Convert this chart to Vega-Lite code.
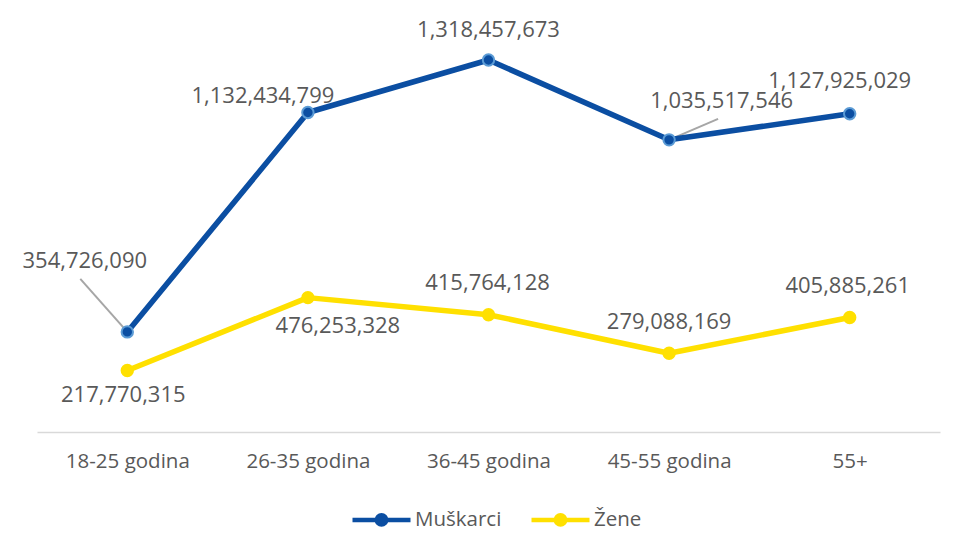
{
  "$schema": "https://vega.github.io/schema/vega-lite/v6.json",
  "autosize": "none",
  "width": 903,
  "height": 395,
  "padding": {"left": 37, "top": 37, "right": 29, "bottom": 122},
  "background": "white",
  "config": {
    "view": {"stroke": null},
    "font": "Open Sans",
    "text": {"font": "Open Sans", "fontSize": 22, "fill": "#595959"}
  },
  "data": {
    "values": [
      {"group": "18-25 godina", "gender": "Muškarci", "value": 354726090},
      {"group": "26-35 godina", "gender": "Muškarci", "value": 1132434799},
      {"group": "36-45 godina", "gender": "Muškarci", "value": 1318457673},
      {"group": "45-55 godina", "gender": "Muškarci", "value": 1035517546},
      {"group": "55+", "gender": "Muškarci", "value": 1127925029},
      {"group": "18-25 godina", "gender": "Žene", "value": 217770315},
      {"group": "26-35 godina", "gender": "Žene", "value": 476253328},
      {"group": "36-45 godina", "gender": "Žene", "value": 415764128},
      {"group": "45-55 godina", "gender": "Žene", "value": 279088169},
      {"group": "55+", "gender": "Žene", "value": 405885261}
    ]
  },
  "encoding": {
    "x": {
      "field": "group", "type": "ordinal",
      "sort": ["18-25 godina", "26-35 godina", "36-45 godina", "45-55 godina", "55+"],
      "scale": {"type": "point", "padding": 0.5, "domain": ["18-25 godina", "26-35 godina", "36-45 godina", "45-55 godina", "55+"]},
      "axis": {
        "title": null, "ticks": false, "domainColor": "#D9D9D9", "domainWidth": 1.5,
        "labelFont": "Open Sans", "labelFontSize": 20.5, "labelColor": "#595959",
        "labelPadding": 19, "labelAngle": 0, "grid": false
      }
    },
    "y": {
      "field": "value", "type": "quantitative",
      "scale": {"domain": [0, 1400000000], "nice": false},
      "axis": null
    }
  },
  "layer": [
    {
      "transform": [{"filter": "datum.gender === 'Muškarci' && datum.group === '18-25 godina'"}],
      "mark": {"type": "rule", "color": "#A6A6A6", "strokeWidth": 2, "x2Offset": -47, "y2Offset": -53},
      "encoding": {"x2": {"field": "group"}, "y2": {"field": "value"}}
    },
    {
      "transform": [{"filter": "datum.gender === 'Muškarci' && datum.group === '45-55 godina'"}],
      "mark": {"type": "rule", "color": "#A6A6A6", "strokeWidth": 2, "x2Offset": 49, "y2Offset": -21},
      "encoding": {"x2": {"field": "group"}, "y2": {"field": "value"}}
    },
    {
      "mark": {"type": "line", "strokeWidth": 5.5, "strokeJoin": "round", "strokeCap": "round"},
      "encoding": {
        "color": {
          "field": "gender", "type": "nominal",
          "scale": {"domain": ["Muškarci", "Žene"], "range": ["#0B4EA2", "#FFE000"]},
          "legend": {
            "title": null, "orient": "none", "direction": "horizontal",
            "legendX": 313, "legendY": 451,
            "symbolType": "M-1,0L1,0M0.16,0A0.16,0.16,0,1,1,-0.16,0A0.16,0.16,0,1,1,0.16,0Z",
            "symbolSize": 3364, "symbolStrokeWidth": 4.5,
            "labelFont": "Open Sans", "labelFontSize": 20.5, "labelColor": "#595959",
            "labelOffset": 2, "columnPadding": 20
          }
        }
      }
    },
    {
      "mark": {"type": "point", "filled": true, "size": 130, "strokeWidth": 2, "opacity": 1},
      "encoding": {
        "color": {
          "field": "gender", "type": "nominal",
          "scale": {"domain": ["Muškarci", "Žene"], "range": ["#0B4EA2", "#FFE000"]},
          "legend": {
            "title": null, "orient": "none", "direction": "horizontal",
            "legendX": 313, "legendY": 451,
            "symbolType": "M-1,0L1,0M0.16,0A0.16,0.16,0,1,1,-0.16,0A0.16,0.16,0,1,1,0.16,0Z",
            "symbolSize": 3364, "symbolStrokeWidth": 4.5,
            "labelFont": "Open Sans", "labelFontSize": 20.5, "labelColor": "#595959",
            "labelOffset": 2, "columnPadding": 20
          }
        },
        "stroke": {
          "condition": {"test": "datum.gender === 'Muškarci'", "value": "#5B9BD5"},
          "value": "#FFE000"
        }
      }
    },
    {
      "transform": [{"filter": "datum.gender === 'Muškarci' && datum.group === '18-25 godina'"}],
      "mark": {"type": "text", "dx": -42.5, "dy": -70.5},
      "encoding": {"text": {"field": "value", "format": ","}}
    },
    {
      "transform": [{"filter": "datum.gender === 'Muškarci' && datum.group === '26-35 godina'"}],
      "mark": {"type": "text", "dx": -45, "dy": -16},
      "encoding": {"text": {"field": "value", "format": ","}}
    },
    {
      "transform": [{"filter": "datum.gender === 'Muškarci' && datum.group === '36-45 godina'"}],
      "mark": {"type": "text", "dx": 0, "dy": -30.5},
      "encoding": {"text": {"field": "value", "format": ","}}
    },
    {
      "transform": [{"filter": "datum.gender === 'Muškarci' && datum.group === '45-55 godina'"}],
      "mark": {"type": "text", "dx": 52.5, "dy": -39},
      "encoding": {"text": {"field": "value", "format": ","}}
    },
    {
      "transform": [{"filter": "datum.gender === 'Muškarci' && datum.group === '55+'"}],
      "mark": {"type": "text", "dx": -10, "dy": -33},
      "encoding": {"text": {"field": "value", "format": ","}}
    },
    {
      "transform": [{"filter": "datum.gender === 'Žene' && datum.group === '18-25 godina'"}],
      "mark": {"type": "text", "dx": -4, "dy": 24.5},
      "encoding": {"text": {"field": "value", "format": ","}}
    },
    {
      "transform": [{"filter": "datum.gender === 'Žene' && datum.group === '26-35 godina'"}],
      "mark": {"type": "text", "dx": 30, "dy": 28.5},
      "encoding": {"text": {"field": "value", "format": ","}}
    },
    {
      "transform": [{"filter": "datum.gender === 'Žene' && datum.group === '36-45 godina'"}],
      "mark": {"type": "text", "dx": -1, "dy": -31.5},
      "encoding": {"text": {"field": "value", "format": ","}}
    },
    {
      "transform": [{"filter": "datum.gender === 'Žene' && datum.group === '45-55 godina'"}],
      "mark": {"type": "text", "dx": 0, "dy": -31},
      "encoding": {"text": {"field": "value", "format": ","}}
    },
    {
      "transform": [{"filter": "datum.gender === 'Žene' && datum.group === '55+'"}],
      "mark": {"type": "text", "dx": -2, "dy": -31.5},
      "encoding": {"text": {"field": "value", "format": ","}}
    }
  ]
}
